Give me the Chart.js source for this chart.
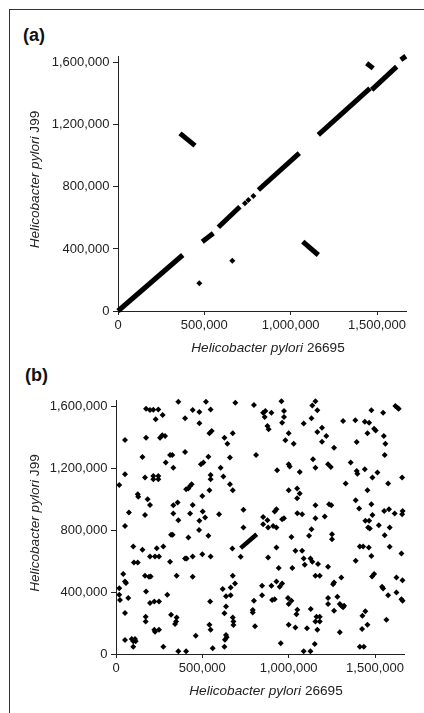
<!DOCTYPE html>
<html><head><meta charset="utf-8">
<script src="https://cdn.jsdelivr.net/npm/chart.js@4.4.1/dist/chart.umd.min.js"></script>
<style>
html,body{margin:0;padding:0;background:#fff;width:424px;height:713px;overflow:hidden;position:relative;font-family:"Liberation Sans",Arial,sans-serif;}
#frame{position:absolute;left:9px;top:9px;width:600px;height:900px;border-left:1px solid #333;border-top:1px solid #333;}
.panel{position:absolute;font-weight:bold;font-size:18px;line-height:18px;color:#111;}
canvas{position:absolute;left:0;}
</style></head>
<body>
<div id="frame"></div>
<div class="panel" style="left:23px;top:26px">(a)</div>
<div class="panel" style="left:25px;top:366px">(b)</div>
<canvas id="ca" width="424" height="370" style="top:0"></canvas>
<canvas id="cb" width="424" height="353" style="top:360px"></canvas>
<script>
// ---- axes ----
const xMax = 1667867;
const yMax = 1643831;
const xTicks = [0, 500000, 1000000, 1500000];
const yTicks = [0, 400000, 800000, 1200000, 1600000];
const xTitleItalic = "Helicobacter pylori";
const xTitleRest = " 26695";
const yTitleItalic = "Helicobacter pylori";
const yTitleRest = " J99";

// ---- panel (a): aligned segments [x1, y1, x2, y2] ----
const aForwardSegs = [
  [0, 0, 375000, 361000],
  [488000, 447000, 552000, 501000],
  [581000, 540000, 706000, 672000],
  [813000, 780000, 1050000, 1018000],
  [1160000, 1136000, 1459000, 1435000],
  [1469000, 1425000, 1614000, 1575000],
  [1638000, 1620000, 1667000, 1643000]
];
const aInvertedSegs = [
  [359000, 1145000, 446000, 1066000],
  [1070000, 447000, 1160000, 361000],
  [1440000, 1597000, 1478000, 1564000]
];
const aDotX = [471000, 662000, 735000, 755000, 784000];
const aDotY = [179000, 324000, 694000, 716000, 741000];

// ---- panel (b): matches (thousands of bp) ----
const bX = [
 361,521,691,799,174,197,216,245,270,444,483,548,230,400,483,52,174,255,268,284,541,554,628,645,676,811,153,313,326,400,535,660,288,332,492,506,606,52,168,216,216,245,245,19,548,548,622,660,676,406,419,429,438,541,126,129,183,197,332,357,444,500,75,168,332,429,502,516,597,738,361,483,
 958,1155,1137,1166,852,865,861,900,973,973,962,877,884,1132,1087,1315,1386,1441,1466,1479,1547,1618,1630,1637,1495,1504,1456,1551,1560,1556,1193,1166,1218,1000,981,1029,1193,1263,1394,1141,1155,1228,1244,1000,1006,933,1064,1359,1394,1398,1441,1514,1485,1657,1330,1576,1000,1049,1064,1049,1456,1388,1408,1479,1485,1155,1234,1247,929,919,1050,1078,1155,1209,1553,1581,1614,1657,1660,852,877,973,962,1444,1466,
 52,738,481,319,328,419,535,100,153,236,274,197,226,249,104,126,400,409,444,500,548,674,722,313,42,52,58,168,191,201,351,444,19,19,23,71,174,676,689,664,618,197,222,249,297,637,664,545,799,52,319,351,348,342,172,172,628,637,676,680,680,792,792,541,548,222,226,249,805,462,637,641,631,52,91,110,100,114,100,274,361,406,560,628,
 852,881,910,929,1132,1118,1016,1251,1251,1460,1470,1522,1585,1556,929,1039,1078,1087,1126,1137,1170,1093,881,942,1021,1228,1412,1431,1464,1585,1479,1653,1388,1155,1180,1305,1483,1495,1624,1659,846,900,929,962,948,846,904,919,1257,1263,1541,1547,1576,1624,1653,1660,996,1000,1016,1228,1228,1282,1296,1305,1321,1315,1263,1050,1045,1128,1161,1180,1155,1180,1444,1427,1566,1000,1039,1106,1166,1296,1456,1425,954,1087,1126,1151,1412,1435
];
const bY = [
 1633,1633,1626,1611,1587,1579,1581,1583,1547,1579,1566,1583,1519,1525,1493,1385,1400,1400,1415,1411,1428,1443,1400,1361,1428,1288,1275,1288,1288,1307,1277,1271,1239,1206,1228,1239,1206,1163,1142,1152,1131,1152,1131,1094,1159,1131,1148,1099,1060,1066,1071,1088,1099,1060,1034,1017,1002,965,963,980,965,1023,915,900,909,909,922,883,905,933,866,862,
 1636,1636,1609,1577,1562,1572,1534,1562,1572,1534,1497,1475,1454,1525,1491,1508,1512,1503,1497,1577,1562,1605,1594,1587,1458,1447,1428,1411,1361,1288,1465,1437,1411,1428,1383,1361,1374,1335,1372,1260,1206,1228,1211,1228,1213,1189,1178,1239,1185,1167,1195,1174,1142,1142,1103,1103,1060,1071,1038,1008,1060,995,941,969,900,963,969,963,937,922,911,905,879,890,926,937,909,905,926,887,866,879,872,862,862,
 829,819,803,771,771,754,765,696,674,685,696,631,631,631,592,592,618,618,631,646,631,683,629,597,517,470,459,506,500,502,506,500,426,383,349,362,405,506,457,431,420,330,340,340,383,373,381,340,345,265,254,237,211,194,241,211,263,308,237,211,187,284,269,190,157,157,144,157,179,118,123,108,93,90,97,97,82,82,47,47,17,17,37,47,
 840,819,829,819,808,765,758,775,743,819,812,834,819,769,689,668,668,618,618,597,582,577,625,556,556,564,696,696,689,694,635,651,603,506,506,495,502,517,495,478,442,442,470,457,435,381,349,355,452,463,435,424,381,398,355,345,362,323,345,362,323,370,323,312,312,302,280,286,258,291,241,241,211,211,276,248,222,190,172,166,157,140,190,162,69,17,17,65,47,47
];
const bSeg = [722000, 685000, 815000, 775000];

// ---- helpers ----
const FONT = '"Liberation Sans", Arial, Helvetica, sans-serif';
const fmt = v => Number(v).toLocaleString('en-US');

const axisTitles = {
  id: 'axisTitles',
  afterDraw(chart) {
    const {ctx, chartArea: ca} = chart;
    const size = 13.6;
    const it = `italic ${size}px ${FONT}`;
    const nm = `${size}px ${FONT}`;
    function mixed(a, b, cx, y) {
      ctx.font = it; const wa = ctx.measureText(a).width;
      ctx.font = nm; const wb = ctx.measureText(b).width;
      let x0 = cx - (wa + wb) / 2;
      ctx.font = it; ctx.fillText(a, x0, y);
      ctx.font = nm; ctx.fillText(b, x0 + wa, y);
    }
    ctx.save();
    ctx.fillStyle = '#222';
    ctx.textBaseline = 'alphabetic';
    ctx.textAlign = 'left';
    mixed(xTitleItalic, xTitleRest, (ca.left + ca.right) / 2 + 6, ca.bottom + 40.5);
    ctx.translate(38.5, (ca.top + ca.bottom) / 2 - 4);
    ctx.rotate(-Math.PI / 2);
    mixed(yTitleItalic, yTitleRest, 0, 0);
    ctx.restore();
  }
};

function makeChart(id, datasets, area) {
  return new Chart(document.getElementById(id), {
    type: 'scatter',
    data: {datasets},
    options: {
      responsive: false, animation: false, devicePixelRatio: 1,
      layout: {padding: {top: area.top, right: area.right, left: 0, bottom: 0}},
      plugins: {legend: {display: false}, tooltip: {enabled: false}},
      scales: {
        x: {
          type: 'linear', min: 0, max: xMax,
          afterBuildTicks: s => { s.ticks = xTicks.map(v => ({value: v})); },
          afterFit: s => { s.height = area.xh; },
          grid: {display: true, drawOnChartArea: false, drawTicks: true, tickLength: 4, color: '#222', tickColor: '#222'},
          border: {display: true, color: '#222', width: 1},
          ticks: {color: '#222', font: {family: FONT, size: 13}, padding: 3, maxRotation: 0, autoSkip: false, callback: v => fmt(v)}
        },
        y: {
          type: 'linear', min: 0, max: yMax,
          afterBuildTicks: s => { s.ticks = yTicks.map(v => ({value: v})); },
          afterFit: s => { s.width = area.yw; },
          grid: {display: true, drawOnChartArea: false, drawTicks: true, tickLength: 5, color: '#222', tickColor: '#222'},
          border: {display: true, color: '#222', width: 1},
          ticks: {color: '#222', font: {family: FONT, size: 13}, padding: 3.5, autoSkip: false, callback: v => fmt(v)}
        }
      }
    },
    plugins: [axisTitles]
  });
}

function segSet(s, w) {
  return {data: [{x: s[0], y: s[1]}, {x: s[2], y: s[3]}], showLine: true, borderColor: '#000',
          borderWidth: w, pointRadius: 0, borderCapStyle: 'butt', clip: false};
}
function dotSet(xs, ys, r) {
  return {data: xs.map((x, i) => ({x, y: ys[i]})), showLine: false, pointStyle: 'rectRot',
          pointRadius: r, backgroundColor: '#000', borderWidth: 0, clip: false};
}

const dsA = aForwardSegs.concat(aInvertedSegs).map(s => segSet(s, 5));
dsA.push(dotSet(aDotX, aDotY, 3));
makeChart('ca', dsA, {top: 56, right: 18, xh: 59, yw: 118});

const dsB = [segSet(bSeg, 4.5), dotSet(bX.map(v => v * 1000), bY.map(v => v * 1000), 3)];
makeChart('cb', dsB, {top: 40, right: 20, xh: 59, yw: 116});
</script>
</body></html>
